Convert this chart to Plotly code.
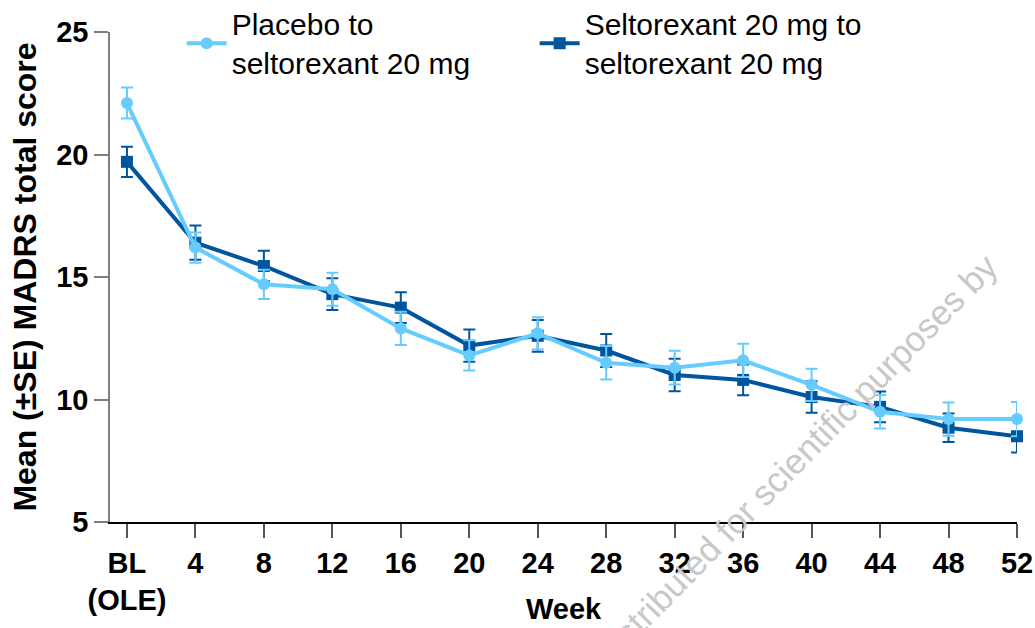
import plotly.graph_objects as go

weeks = [0, 4, 8, 12, 16, 20, 24, 28, 32, 36, 40, 44, 48, 52]
week_labels = ["BL<br>(OLE)", "4", "8", "12", "16", "20", "24", "28", "32", "36", "40", "44", "48", "52"]

placebo_name = "Placebo to<br>seltorexant 20 mg"
placebo = [22.1, 16.2, 14.7, 14.5, 12.9, 11.8, 12.7, 11.5, 11.3, 11.6, 10.6, 9.5, 9.2, 9.2]
placebo_se = [0.63, 0.62, 0.6, 0.67, 0.68, 0.62, 0.66, 0.68, 0.69, 0.68, 0.66, 0.68, 0.68, 0.7]

selto_name = "Seltorexant 20 mg to<br>seltorexant 20 mg"
selto = [19.7, 16.4, 15.45, 14.3, 13.75, 12.2, 12.6, 12.0, 11.0, 10.8, 10.1, 9.7, 8.85, 8.5]
selto_se = [0.62, 0.7, 0.62, 0.65, 0.63, 0.66, 0.65, 0.67, 0.66, 0.63, 0.64, 0.63, 0.58, 0.66]

y_ticks = [5, 10, 15, 20, 25]

LIGHT = "#66CCFF"
DARK = "#00559F"
FONT = "Liberation Sans, Arial, sans-serif"

fig = go.Figure()
fig.add_trace(go.Scatter(
    x=weeks, y=selto, name=selto_name, mode="lines+markers",
    line=dict(color=DARK, width=4),
    marker=dict(symbol="square", size=12, color=DARK),
    error_y=dict(type="data", array=selto_se, visible=True, color=DARK, thickness=2, width=6),
    legendrank=2, cliponaxis=False,
))
fig.add_trace(go.Scatter(
    x=weeks, y=placebo, name=placebo_name, mode="lines+markers",
    line=dict(color=LIGHT, width=4),
    marker=dict(symbol="circle", size=12, color=LIGHT),
    error_y=dict(type="data", array=placebo_se, visible=True, color=LIGHT, thickness=2, width=6),
    legendrank=1, cliponaxis=False,
))

fig.update_layout(
    width=1035, height=628,
    margin=dict(l=110, r=18, t=32, b=106, autoexpand=False),
    paper_bgcolor="white", plot_bgcolor="white",
    font=dict(family=FONT, color="black"),
    showlegend=True,
    legend=dict(
        orientation="h", x=0.079, xanchor="left", y=1.07, yanchor="top",
        font=dict(size=30, color="black"), itemwidth=40,
        entrywidth=298, entrywidthmode="pixels",
        bgcolor="rgba(0,0,0,0)", traceorder="normal",
    ),
    xaxis=dict(
        range=[-0.99, 52], tickmode="array", tickvals=weeks, ticktext=week_labels,
        showline=True, linecolor="black", linewidth=1.5,
        ticks="outside", ticklen=14, tickcolor="#555555", tickwidth=1.5,
        tickfont=dict(size=29, family=FONT, weight="bold"),
        showgrid=False, zeroline=False, automargin=False,
    ),
    yaxis=dict(
        range=[5, 25], tickmode="array", tickvals=y_ticks,
        showline=True, linecolor="#7f7f7f", linewidth=1.5,
        ticks="outside", ticklen=14, tickcolor="#7f7f7f", tickwidth=1.5,
        tickfont=dict(size=29, family=FONT, weight="bold"),
        showgrid=False, zeroline=False, automargin=False,
        title=dict(text="<b>Mean (±SE) MADRS total score</b>", font=dict(size=32), standoff=10),
    ),
    annotations=[
        dict(text="<b>Week</b>", xref="paper", yref="paper", x=0.5, y=-0.178,
             xanchor="center", yanchor="middle", showarrow=False, font=dict(size=29)),
        dict(text="Distributed for scientific purposes by", xref="paper", yref="paper",
             x=0.755, y=0.125, xanchor="center", yanchor="middle", textangle=-45.6,
             showarrow=False, font=dict(size=35, color="#c8c8c8")),
    ],
)

fig.write_html("out.html", config={"displayModeBar": False},
               post_script="document.body.style.margin='0';")
